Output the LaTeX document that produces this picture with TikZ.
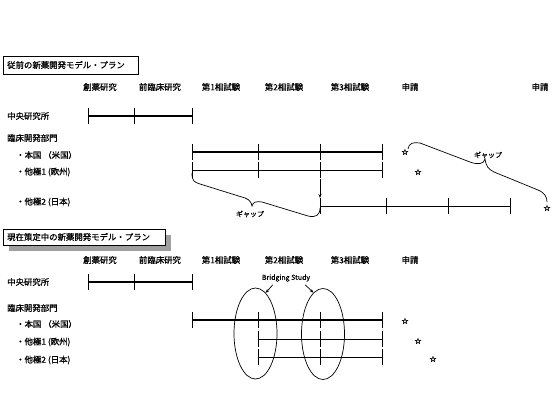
\documentclass[tikz,border=0pt]{standalone}
\usepackage{fontspec}
\setmainfont{Noto Sans CJK JP}[FakeBold=0.8]
\newfontfamily\symfont[FakeBold=2.5]{DejaVu Sans}
\usetikzlibrary{arrows.meta,shapes.geometric}

\begin{document}
\begin{tikzpicture}[x=1pt, y=-1pt, font=\fontsize{8.4}{9}\selectfont,
  thinline/.style={line width=0.7pt},
  thickline/.style={line width=1.8pt},
  lbl/.style={anchor=west, inner sep=0pt},
  starmark/.style={inner sep=0pt, font=\symfont\fontsize{8}{8}\selectfont},
  gap/.style={inner sep=0pt, font=\fontsize{7}{8}\selectfont},
  arr/.style={thinline, -{Stealth[length=4pt, width=3pt]}},
  bsring/.style={ellipse, draw, thinline, minimum width=43pt, minimum height=91pt, inner sep=0pt}]
  \useasboundingbox (0,0) rectangle (557,418);
  % old plan
  \draw[line width=0.8pt] (3,56) rectangle (138,74);
  \node[lbl] (oldtitle) at (7,65) {従前の新薬開発モデル・プラン};
  \foreach \x/\t [count=\i] in {100/創薬研究, 160/前臨床研究, 221/第1相試験, 284/第2相試験,
      350/第3相試験, 410/申請, 540/申請}
    \node (oldph\i) at (\x,87) {\t};
  \node[lbl] (oldlab) at (7,116) {中央研究所};
  \node[lbl] (oldclin) at (7,138) {臨床開発部門};
  \node[lbl] (oldus) at (16,155) {・本国 （米国）};
  \node[lbl] (oldeu) at (16,172) {・他極1 (欧州)};
  \node[lbl] (oldjp) at (16,202) {・他極2 (日本)};
  % central lab
  \draw[thickline] (88,116) -- (192,116);
  \foreach \x in {88,134,192} \draw[thinline] (\x,108) -- (\x,124);
  % US
  \draw[thickline] (192,152) -- (382,152);
  \foreach \x in {192,258,320,382} \draw[thinline] (\x,144) -- (\x,160);
  % EU
  \draw[thinline] (192,170) -- (382,170);
  \foreach \x in {192,258,320,382} \draw[thinline] (\x,162) -- (\x,178);
  % JP
  \draw[thinline] (320,206) -- (510,206);
  \foreach \x in {320,386,448,510} \draw[thinline] (\x,198) -- (\x,214);
  \draw[arr] (320,179) -- (320,198);
  % gaps
  \draw[thinline] (192,173) .. controls (192,181) and (194,182) .. (200,184) -- (245,198)
    .. controls (250,200) and (251,202) .. (252,206) .. controls (253,202) and (256,201) .. (262,202)
    -- (308,216) .. controls (316,218) and (320,215) .. (320,208);
  \node[gap] (gap1) at (250,214) {ギャップ};
  \draw[thinline] (408,149) .. controls (409,143) and (413,142) .. (420,143) -- (470,162)
    .. controls (478,165) and (484,164) .. (485,159) .. controls (486,166) and (488,169) .. (494,172)
    -- (538,190) .. controls (545,193) and (547,197) .. (547,202);
  \node[gap] (gap2) at (488,155) {ギャップ};
  \node[starmark] (oldsus) at (405,152) {☆};
  \node[starmark] (oldseu) at (418,172) {☆};
  \node[starmark] (oldsjp) at (547,208) {☆};
  % new plan
  \fill[gray!75] (9,235) rectangle (171,251);
  \draw[line width=0.8pt, fill=white] (3,229) rectangle (165,245);
  \node[lbl] (newtitle) at (7,237) {現在策定中の新薬開発モデル・プラン};
  \foreach \x/\t [count=\i] in {100/創薬研究, 160/前臨床研究, 221/第1相試験, 284/第2相試験,
      350/第3相試験, 410/申請}
    \node (newph\i) at (\x,260) {\t};
  \node[lbl] (newlab) at (7,282) {中央研究所};
  \node[lbl] (newclin) at (7,308) {臨床開発部門};
  \node[lbl] (newus) at (16,324) {・本国 （米国）};
  \node[lbl] (neweu) at (16,342) {・他極1 (欧州)};
  \node[lbl] (newjp) at (16,360) {・他極2 (日本)};
  \draw[thickline] (88,282) -- (192,282);
  \foreach \x in {88,134,192} \draw[thinline] (\x,274) -- (\x,290);
  \draw[thickline] (192,320) -- (382,320);
  \foreach \x in {192,258,320,382} \draw[thinline] (\x,312) -- (\x,328);
  \draw[thinline] (258,339) -- (382,339);
  \foreach \x in {258,320,382} \draw[thinline] (\x,331) -- (\x,347);
  \draw[thinline] (258,357) -- (382,357);
  \foreach \x in {258,320,382} \draw[thinline] (\x,349) -- (\x,365);
  % bridging
  \node[bsring] (bs1) at (255.5,333.5) {};
  \node[bsring] (bs2) at (323,334) {};
  \node[gap] (bslabel) at (286,278) {Bridging Study};
  \draw[arr] (bslabel.south west) ++(11,3) -- (bs1.76);
  \draw[arr] (bslabel.south east) ++(-5,3) -- (bs2.103);
  \node[starmark] (newsus) at (405,321) {☆};
  \node[starmark] (newseu) at (418,341) {☆};
  \node[starmark] (newsjp) at (433,359) {☆};
\end{tikzpicture}
\end{document}
